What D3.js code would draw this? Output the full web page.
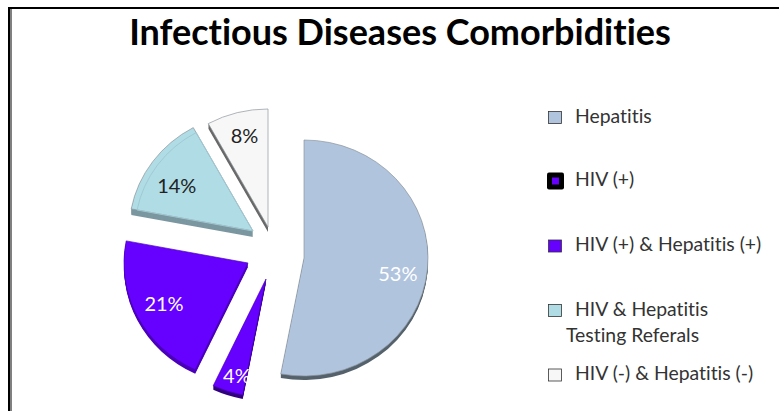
<!DOCTYPE html>
<html>
<head>
<meta charset="utf-8">
<script src="https://cdn.jsdelivr.net/npm/d3@7"></script>
<style>
html, body { margin: 0; padding: 0; background: #fff; }
svg { display: block; font-family: Lato, "Open Sans", sans-serif; font-variant-ligatures: none; }
</style>
</head>
<body>
<svg id="chart" width="779" height="411"></svg>
<script>
const title = 'Infectious Diseases Comorbidities';
const categories = ['Hepatitis', 'HIV (+)', 'HIV (+) & Hepatitis (+)', 'HIV & Hepatitis', 'HIV (-) & Hepatitis (-)'];
const values = [53, 4, 21, 14, 8];

// look of each slice, same order as categories
const topColors = ['#b0c4de', '#6600ff', '#6600ff', '#b0dce6', '#f7f7f7'];
const wallColors = ['#55626c', '#33007f', '#4a00b8', '#7b97a0', '#6a6a6a'];
const labelColors = ['#fff', '#fff', '#fff', '#222', '#222'];
const sliceShift = [[0, 0], [-38, 21], [-56, 5], [-51, -27], [-36, -31]];
const sliceDepth = [4, 4, 4, 6, 5];
const labelNudge = [8, 12, 0, 8, -4];
// legend rows, the swatch and the text are placed by hand like in the original
const legendY = [117.5, 180.5, 246, 310.5, 375];

const svg = d3.select('#chart');
const radius = 124;
const squash = 118 / 124; // the pie is tilted a bit
const center = {x: 304, y: 258};

// frame of the original picture
svg.append('rect').attr('x', 8).attr('y', 7).attr('width', 771).attr('height', 2).attr('fill', '#000');
svg.append('rect').attr('x', 8).attr('y', 7).attr('width', 2).attr('height', 404).attr('fill', '#000');
svg.append('rect').attr('x', 10).attr('y', 9).attr('width', 2).attr('height', 402).attr('fill', '#808080');

svg.append('text')
    .attr('x', 400)
    .attr('y', 45)
    .attr('text-anchor', 'middle')
    .attr('font-size', 36)
    .attr('font-weight', 700)
    .attr('fill', '#000')
    .text(title);

const pie = d3.pie().sort(null)(values);
const arc = d3.arc().innerRadius(0).outerRadius(radius);
const bevelArc = d3.arc().innerRadius(0).outerRadius(radius - 6);
const labelArc = d3.arc().innerRadius(radius * 0.76).outerRadius(radius * 0.76);

const slices = svg.selectAll('g.slice')
    .data(pie)
    .enter()
    .append('g')
    .attr('class', 'slice')
    .attr('transform', function(d, i){
        const x = center.x + sliceShift[i][0];
        const y = center.y + sliceShift[i][1];
        return 'translate(' + x + ',' + y + ')';
    });

// side wall: stacked copies of the slice going down
slices.each(function(d, i){
    const g = d3.select(this);
    for(const step of d3.range(sliceDepth[i], 0, -1)){
        g.append('path')
            .attr('d', arc(d))
            .attr('transform', 'translate(0,' + step + ') scale(1,' + squash + ')')
            .attr('fill', wallColors[i]);
    }
});

// top face
slices.append('path')
    .attr('d', arc)
    .attr('transform', 'scale(1,' + squash + ')')
    .attr('fill', function(d, i){ return topColors[i]; })
    .attr('stroke', function(d, i){ return i === 1 || i === 2 ? '#4a00b8' : '#8a9499'; })
    .attr('stroke-width', 0.7);

// thin bevel line that shows on the testing slice
slices.filter(function(d, i){ return i === 3; })
    .append('path')
    .attr('d', bevelArc)
    .attr('transform', 'scale(1,' + squash + ')')
    .attr('fill', 'none')
    .attr('stroke', '#9fc9d3')
    .attr('stroke-width', 1);

slices.append('text')
    .attr('x', function(d){ return labelArc.centroid(d)[0]; })
    .attr('y', function(d, i){ return labelArc.centroid(d)[1] * squash + labelNudge[i]; })
    .attr('dy', '0.35em')
    .attr('text-anchor', 'middle')
    .attr('font-size', 20)
    .attr('fill', function(d, i){ return labelColors[i]; })
    .text(function(d){ return d.value + '%'; });

// legend
const legend = svg.selectAll('g.legend')
    .data(categories)
    .enter()
    .append('g')
    .attr('class', 'legend')
    .attr('transform', function(d, i){ return 'translate(0,' + legendY[i] + ')'; });

legend.append('rect')
    .attr('x', function(d, i){ return i === 1 ? 547 : 548.5; })
    .attr('y', function(d, i){ return i === 1 ? -8 : -6; })
    .attr('width', function(d, i){ return i === 1 ? 17 : 13; })
    .attr('height', function(d, i){ return i === 1 ? 17 : 12; })
    .attr('rx', function(d, i){ return i === 1 ? 2 : 0; })
    .attr('fill', function(d, i){ return i === 1 ? '#000' : topColors[i]; })
    .attr('stroke', function(d, i){ return i === 1 ? 'none' : '#333'; })
    .attr('stroke-width', 0.8);

legend.filter(function(d, i){ return i === 1; })
    .append('rect')
    .attr('x', 552)
    .attr('y', -3)
    .attr('width', 7)
    .attr('height', 7)
    .attr('fill', topColors[1]);

legend.append('text')
    .attr('x', 575)
    .attr('y', 5)
    .attr('font-size', 19.4)
    .attr('fill', '#333')
    .text(function(d){ return d; });

// second line of the fourth entry
svg.append('text')
    .attr('x', 566)
    .attr('y', 342)
    .attr('font-size', 19.4)
    .attr('fill', '#333')
    .text('Testing Referals');
</script>
</body>
</html>
